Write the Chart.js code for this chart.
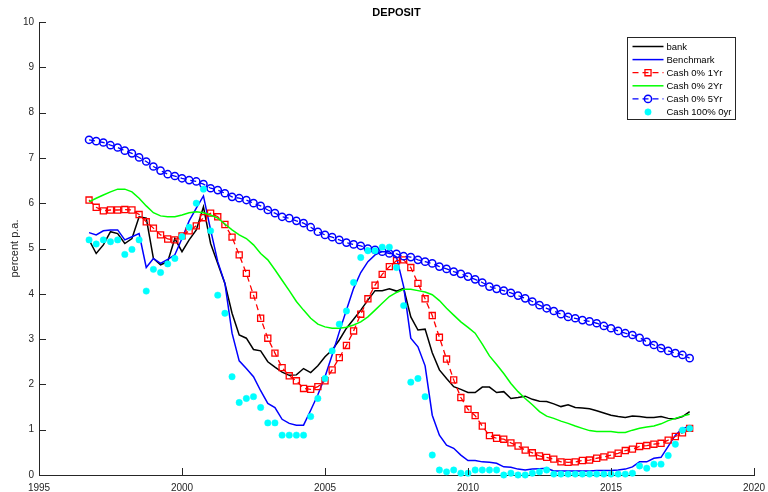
<!DOCTYPE html>
<html>
<head>
<meta charset="utf-8">
<script src="https://cdn.jsdelivr.net/npm/chart.js@4.4.1/dist/chart.umd.min.js"></script>
<style>
  html, body { margin: 0; padding: 0; background: #fff; }
</style>
</head>
<body>
<canvas id="chart" width="768" height="492"></canvas>
<script>
// Quarterly observations, 1996 Q4 .. 2017 Q4
const START_YEAR = 1996.75;
const quarters = Array.from({ length: 85 }, (_, i) => START_YEAR + i * 0.25);

const bank = [
  5.19, 4.89, 5.08, 5.37, 5.33, 5.11, 5.22, 5.70, 5.67, 4.78,
  4.64, 4.71, 5.22, 4.93, 5.19, 5.41, 5.92, 5.11, 4.67, 4.23,
  3.57, 3.09, 3.02, 2.77, 2.74, 2.50, 2.38, 2.27, 2.20, 2.21,
  2.35, 2.26, 2.41, 2.61, 2.76, 2.98, 3.24, 3.44, 3.64, 3.86,
  4.07, 4.07, 4.11, 4.06, 4.12, 3.49, 3.20, 3.22, 2.70, 2.32,
  2.13, 1.95, 1.89, 1.82, 1.82, 1.94, 1.94, 1.82, 1.84, 1.69,
  1.71, 1.74, 1.67, 1.63, 1.62, 1.57, 1.51, 1.55, 1.49, 1.48,
  1.46, 1.42, 1.37, 1.32, 1.29, 1.27, 1.30, 1.29, 1.27, 1.27,
  1.29, 1.25, 1.24, 1.29, 1.40
];

const benchmark = [
  5.35, 5.30, 5.39, 5.41, 5.41, 5.19, 5.26, 5.33, 4.58, 4.78,
  4.67, 4.76, 4.86, 5.22, 5.61, 5.89, 6.16, 5.41, 4.71, 4.23,
  3.13, 2.52, 2.35, 2.17, 1.86, 1.58, 1.49, 1.23, 1.14, 1.10,
  1.10, 1.43, 1.77, 2.17, 2.65, 3.16, 3.64, 4.12, 4.47, 4.71,
  4.86, 4.93, 4.93, 4.81, 4.16, 3.02, 2.83, 2.41, 1.32, 0.88,
  0.66, 0.59, 0.44, 0.32, 0.32, 0.29, 0.28, 0.26, 0.18, 0.17,
  0.13, 0.11, 0.13, 0.14, 0.15, 0.09, 0.09, 0.09, 0.09, 0.09,
  0.09, 0.10, 0.10, 0.10, 0.11, 0.13, 0.18, 0.29, 0.29, 0.37,
  0.39, 0.63, 0.88, 1.03, 1.07
];

const cash0_1yr = [
  6.07, 5.91, 5.83, 5.85, 5.85, 5.86, 5.85, 5.75, 5.59, 5.45,
  5.30, 5.21, 5.19, 5.28, 5.39, 5.50, 5.68, 5.78, 5.70, 5.53,
  5.25, 4.86, 4.45, 3.97, 3.46, 3.02, 2.69, 2.37, 2.19, 2.08,
  1.91, 1.89, 1.95, 2.08, 2.32, 2.59, 2.86, 3.18, 3.55, 3.89,
  4.19, 4.43, 4.60, 4.73, 4.75, 4.58, 4.23, 3.89, 3.52, 3.04,
  2.56, 2.10, 1.71, 1.45, 1.31, 1.08, 0.87, 0.81, 0.79, 0.71,
  0.64, 0.55, 0.49, 0.42, 0.39, 0.35, 0.29, 0.28, 0.29, 0.32,
  0.33, 0.37, 0.40, 0.44, 0.48, 0.54, 0.57, 0.63, 0.65, 0.68,
  0.70, 0.77, 0.85, 0.93, 1.03
];

const cash0_2yr = [
  6.03, 6.11, 6.18, 6.25, 6.31, 6.31, 6.25, 6.11, 5.94, 5.79,
  5.72, 5.70, 5.70, 5.74, 5.79, 5.81, 5.79, 5.74, 5.67, 5.54,
  5.41, 5.30, 5.22, 5.08, 4.89, 4.75, 4.53, 4.30, 4.07, 3.83,
  3.64, 3.46, 3.33, 3.27, 3.24, 3.24, 3.26, 3.31, 3.38, 3.49,
  3.64, 3.79, 3.94, 4.03, 4.10, 4.10, 4.07, 4.04, 3.98, 3.85,
  3.68, 3.53, 3.38, 3.26, 3.13, 2.89, 2.63, 2.44, 2.24, 2.02,
  1.84, 1.69, 1.55, 1.40, 1.30, 1.25, 1.19, 1.14, 1.08, 1.03,
  0.98, 0.96, 0.96, 0.96, 0.94, 0.94, 0.99, 1.03, 1.06, 1.08,
  1.13, 1.20, 1.25, 1.30, 1.34
];

const cash0_5yr = [
  7.40, 7.37, 7.34, 7.28, 7.23, 7.16, 7.10, 7.01, 6.92, 6.81,
  6.72, 6.64, 6.60, 6.55, 6.51, 6.48, 6.42, 6.33, 6.29, 6.22,
  6.14, 6.11, 6.07, 6.00, 5.94, 5.85, 5.78, 5.70, 5.67, 5.61,
  5.56, 5.47, 5.37, 5.30, 5.25, 5.19, 5.13, 5.09, 5.06, 5.00,
  4.97, 4.93, 4.89, 4.88, 4.83, 4.81, 4.75, 4.71, 4.67, 4.60,
  4.55, 4.49, 4.44, 4.38, 4.32, 4.25, 4.16, 4.11, 4.07, 4.02,
  3.96, 3.90, 3.83, 3.75, 3.68, 3.62, 3.55, 3.49, 3.46, 3.42,
  3.39, 3.35, 3.29, 3.24, 3.18, 3.13, 3.09, 3.03, 2.94, 2.87,
  2.80, 2.74, 2.69, 2.65, 2.58
];

const cash100_0yr = [
  5.19, 5.10, 5.19, 5.15, 5.19, 4.87, 4.98, 5.19, 4.06, 4.54,
  4.47, 4.66, 4.78, 5.26, 5.47, 6.00, 6.31, 5.39, 3.97, 3.57,
  2.17, 1.60, 1.69, 1.73, 1.49, 1.15, 1.15, 0.88, 0.88, 0.88,
  0.88, 1.29, 1.69, 2.13, 2.74, 3.33, 3.62, 4.25, 4.80, 4.95,
  4.95, 5.03, 5.03, 4.58, 3.74, 2.05, 2.13, 1.73, 0.44, 0.11,
  0.07, 0.11, 0.04, 0.04, 0.11, 0.11, 0.11, 0.11, 0.00, 0.04,
  0.00, 0.00, 0.04, 0.07, 0.11, 0.02, 0.02, 0.02, 0.02, 0.02,
  0.02, 0.02, 0.02, 0.02, 0.02, 0.02, 0.04, 0.20, 0.15, 0.24,
  0.24, 0.43, 0.68, 0.99, 1.03
];

const xTicks = [1995, 2000, 2005, 2010, 2015, 2020];
const yTicks = [0, 1, 2, 3, 4, 5, 6, 7, 8, 9, 10];

const AXIS_COLOR = '#262626';
const FONT = '"Liberation Sans", Arial, Helvetica, sans-serif';
Chart.defaults.font.family = FONT;

const toPoints = (values) => quarters.map((q, i) => ({ x: q, y: values[i] }));

const datasets = [
  {
    label: 'bank', data: toPoints(bank),
    borderColor: '#000000', borderWidth: 1.5, pointRadius: 0, order: 6,
  },
  {
    label: 'Benchmark', data: toPoints(benchmark),
    borderColor: '#0000ff', borderWidth: 1.5, pointRadius: 0, order: 5,
  },
  {
    label: 'Cash 0% 1Yr', data: toPoints(cash0_1yr),
    borderColor: '#ff0000', borderWidth: 1.3, borderDash: [6, 4],
    pointStyle: 'rect', pointRadius: 4.3, pointBorderWidth: 1.3,
    pointBorderColor: '#ff0000', pointBackgroundColor: 'rgba(0,0,0,0)', order: 4,
  },
  {
    label: 'Cash 0% 2Yr', data: toPoints(cash0_2yr),
    borderColor: '#00ff00', borderWidth: 1.5, pointRadius: 0, order: 3,
  },
  {
    label: 'Cash 0% 5Yr', data: toPoints(cash0_5yr),
    borderColor: '#0000ff', borderWidth: 1.3, borderDash: [6, 4],
    pointStyle: 'circle', pointRadius: 3.6, pointBorderWidth: 1.5,
    pointBorderColor: '#0000ff', pointBackgroundColor: 'rgba(0,0,0,0)', order: 2,
  },
  {
    label: 'Cash 100% 0yr', data: toPoints(cash100_0yr),
    showLine: false, borderColor: '#00ffff',
    pointStyle: 'circle', pointRadius: 3.2, pointBorderWidth: 0.5,
    pointBorderColor: '#00ffff', pointBackgroundColor: '#00ffff', order: 1,
  },
];
datasets.forEach(d => { d.clip = false; d.tension = 0; });

// MATLAB-like decorations: inward ticks, title and boxed legend
const matlabDecor = {
  id: 'matlabDecor',
  afterDraw(chart) {
    const { ctx, chartArea: area, scales } = chart;
    ctx.save();

    // inward tick marks
    ctx.strokeStyle = AXIS_COLOR;
    ctx.lineWidth = 1;
    ctx.beginPath();
    yTicks.forEach(v => {
      const y = Math.round(scales.y.getPixelForValue(v)) + 0.5;
      ctx.moveTo(area.left, y);
      ctx.lineTo(area.left + 7, y);
    });
    xTicks.forEach(v => {
      const x = Math.round(scales.x.getPixelForValue(v)) + 0.5;
      ctx.moveTo(x, area.bottom);
      ctx.lineTo(x, area.bottom - 7);
    });
    ctx.stroke();

    // title
    ctx.fillStyle = '#000';
    ctx.font = 'bold 11px ' + FONT;
    ctx.textAlign = 'center';
    ctx.textBaseline = 'middle';
    ctx.fillText('DEPOSIT', (area.left + area.right) / 2, 12.5);

    // legend
    const bw = 108, bh = 82;
    const bx = Math.round(area.right - 19 - bw) + 0.5;
    const by = Math.round(area.top + 15) + 0.5;
    ctx.fillStyle = '#fff';
    ctx.fillRect(bx, by, bw, bh);
    ctx.strokeStyle = AXIS_COLOR;
    ctx.lineWidth = 1;
    ctx.strokeRect(bx, by, bw, bh);

    ctx.font = '9.5px ' + FONT;
    ctx.textAlign = 'left';
    chart.data.datasets.forEach((ds, k) => {
      const y = by + 9 + k * 13.1;
      const x0 = bx + 5, x1 = bx + 36, xm = (x0 + x1) / 2;
      if (ds.showLine !== false) {
        ctx.save();
        ctx.strokeStyle = ds.borderColor;
        ctx.lineWidth = ds.borderWidth;
        ctx.setLineDash(ds.borderDash || []);
        ctx.beginPath();
        ctx.moveTo(x0, y);
        ctx.lineTo(x1, y);
        ctx.stroke();
        ctx.restore();
      }
      if (ds.pointRadius > 0) {
        ctx.save();
        ctx.setLineDash([]);
        ctx.strokeStyle = ds.pointBorderColor;
        ctx.fillStyle = ds.pointBackgroundColor;
        ctx.lineWidth = ds.pointBorderWidth;
        Chart.helpers.drawPoint(ctx, {
          pointStyle: ds.pointStyle, radius: ds.pointRadius,
          rotation: 0, borderWidth: ds.pointBorderWidth,
        }, xm, y);
        ctx.restore();
      }
      ctx.fillStyle = '#000';
      ctx.fillText(ds.label, bx + 39, y + 0.5);
    });

    ctx.restore();
  }
};

new Chart(document.getElementById('chart'), {
  type: 'line',
  data: { datasets },
  options: {
    responsive: false,
    animation: false,
    events: [],
    layout: { padding: { top: 22, right: 14, left: 0, bottom: 0 } },
    plugins: {
      legend: { display: false },
      tooltip: { enabled: false },
      title: { display: false },
    },
    scales: {
      x: {
        type: 'linear',
        min: 1995,
        max: 2020,
        afterFit: (scale) => {
          scale.height = 17;
          scale.paddingLeft = 0;
          scale.paddingRight = 0;
        },
        afterBuildTicks: (scale) => { scale.ticks = xTicks.map(v => ({ value: v })); },
        ticks: {
          color: AXIS_COLOR,
          font: { size: 10 },
          padding: 7,
          maxRotation: 0,
          callback: (v) => String(v),
        },
        grid: { display: false, drawTicks: false },
        border: { display: true, color: AXIS_COLOR, width: 1 },
      },
      y: {
        min: 0,
        max: 10,
        afterFit: (scale) => { scale.width = 39; },
        afterBuildTicks: (scale) => { scale.ticks = yTicks.map(v => ({ value: v })); },
        ticks: {
          color: AXIS_COLOR,
          font: { size: 10 },
          padding: 5,
          callback: (v) => String(v),
        },
        grid: { display: false, drawTicks: false },
        border: { display: true, color: AXIS_COLOR, width: 1 },
        title: {
          display: true,
          text: 'percent p.a.',
          color: AXIS_COLOR,
          font: { size: 11 },
          padding: { top: 8, bottom: 0 },
        },
      },
    },
  },
  plugins: [matlabDecor],
});
</script>
</body>
</html>
